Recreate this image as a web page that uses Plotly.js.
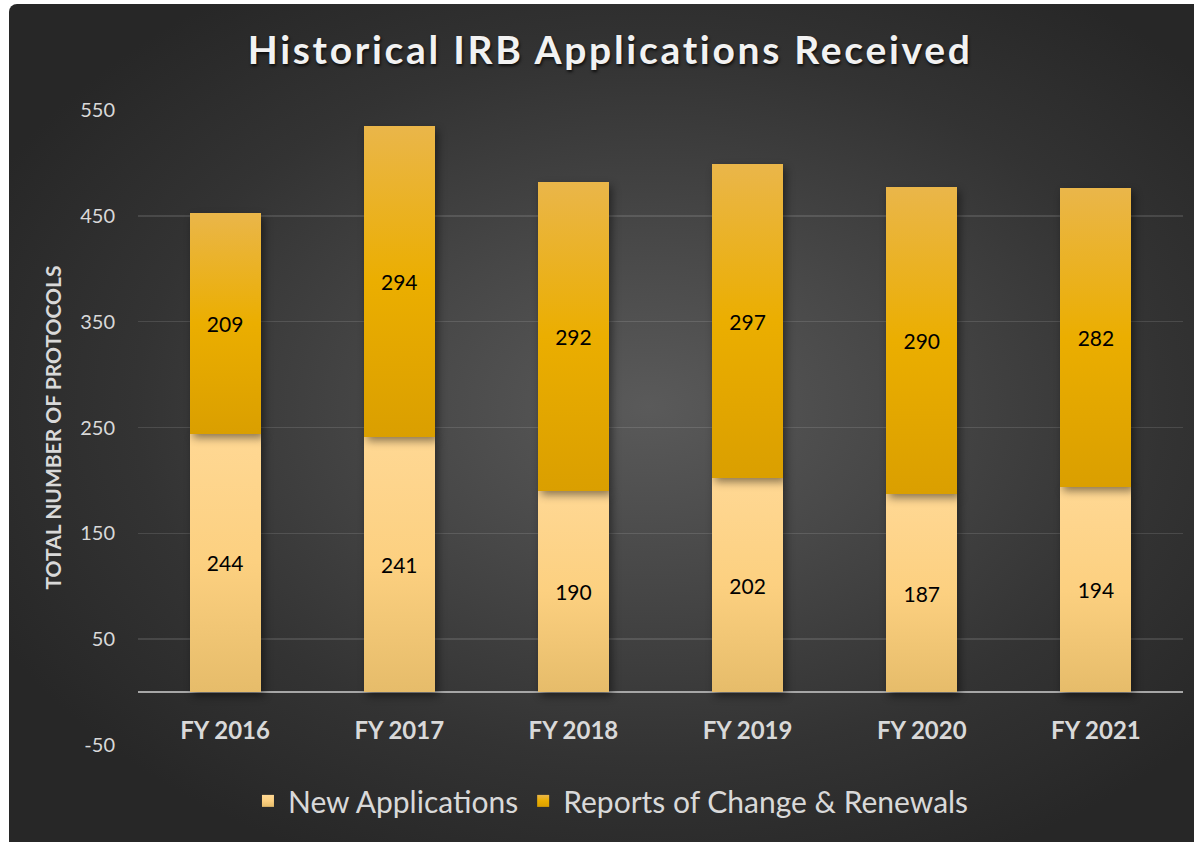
<!DOCTYPE html>
<html>
<head>
<meta charset="utf-8">
<script src="https://cdn.plot.ly/plotly-3.0.1.min.js"></script>
<style>
  html, body { margin: 0; padding: 0; background: #ffffff; }
  #bg {
    position: absolute; left: 9px; top: 4px; width: 1185px; height: 838px;
    border-top-left-radius: 8px;
    background: radial-gradient(ellipse 62% 60% at 54% 48%, #5a5a5a 0%, #474747 35%, #333333 70%, #272727 100%);
  }
  #chart { position: absolute; left: 0; top: 0; width: 1194px; height: 842px; }
  .gtitle { letter-spacing: 2.7px; }
  .barlayer .trace:nth-child(1) .point path { fill: url(#gNew) !important; }
  .barlayer .trace:nth-child(2) .point path { fill: url(#gRep) !important; }
  .barlayer .trace .point path { filter: drop-shadow(3px 4px 4px rgba(0,0,0,0.45)); }
  .legend .traces:nth-child(1) .legendpoints path { fill: url(#gNew) !important; }
  .legend .traces:nth-child(2) .legendpoints path { fill: url(#gRep) !important; }
</style>
</head>
<body>
<svg width="0" height="0" style="position:absolute">
  <defs>
    <linearGradient id="gNew" x1="0" y1="0" x2="0" y2="1">
      <stop offset="0" stop-color="#FFD894"/>
      <stop offset="0.5" stop-color="#FCD080"/>
      <stop offset="1" stop-color="#E6BC6A"/>
    </linearGradient>
    <linearGradient id="gRep" x1="0" y1="0" x2="0" y2="1">
      <stop offset="0" stop-color="#EAB64A"/>
      <stop offset="0.5" stop-color="#EBAE00"/>
      <stop offset="1" stop-color="#DA9F00"/>
    </linearGradient>
  </defs>
</svg>
<div id="bg"></div>
<div id="chart"></div>
<script>
const categories = ["FY 2016", "FY 2017", "FY 2018", "FY 2019", "FY 2020", "FY 2021"];
const newApplications = [244, 241, 190, 202, 187, 194];
const reportsOfChange = [209, 294, 292, 297, 290, 282];
const seriesNames = ["New Applications", "Reports of Change & Renewals"];
const yTicks = [-50, 50, 150, 250, 350, 450, 550];

const labelFont = { family: "Lato, 'Open Sans', sans-serif", size: 21, color: "#000000" };

const traces = [
  {
    type: "bar", name: seriesNames[0], x: categories, y: newApplications,
    text: newApplications.map(String), textposition: "inside", insidetextanchor: "middle",
    textfont: labelFont, marker: { color: "#FCD283" }, hoverinfo: "x+y+name"
  },
  {
    type: "bar", name: seriesNames[1], x: categories, y: reportsOfChange,
    text: reportsOfChange.map(String), textposition: "inside", insidetextanchor: "middle",
    textfont: labelFont, marker: { color: "#E8AA00" }, hoverinfo: "x+y+name"
  }
];

const layout = {
  width: 1194, height: 842,
  paper_bgcolor: "rgba(0,0,0,0)", plot_bgcolor: "rgba(0,0,0,0)",
  barmode: "stack", bargap: 0.592,
  margin: { l: 138, r: 11, t: 110, b: 97 },
  showlegend: true,
  title: {
    text: "Historical IRB Applications Received",
    x: 0.511, xanchor: "center", y: 0.9406, yanchor: "middle",
    font: { family: "Lato, sans-serif", size: 39, weight: 700, color: "#f2f2f2",
            shadow: "1px 2px 3px rgba(0,0,0,0.75)" }
  },
  xaxis: {
    type: "category", range: [-0.5, 5.5],
    showgrid: false, showline: false, zeroline: false,
    anchor: "free", position: 50 / 600,
    ticks: "", ticklabelstandoff: 22,
    tickfont: { family: "Lato, sans-serif", size: 24, weight: 700, color: "#d9d9d9" }
  },
  yaxis: {
    range: [-50, 550], tickvals: yTicks, ticktext: yTicks.map(String),
    showgrid: true, gridcolor: "rgba(255,255,255,0.12)", gridwidth: 1.5,
    zeroline: true, zerolinecolor: "#a6a6a6", zerolinewidth: 2,
    showline: false, ticks: "", ticklabelstandoff: 22,
    tickfont: { family: "Lato, sans-serif", size: 20, color: "#d9d9d9" },
    title: {
      text: "TOTAL NUMBER OF PROTOCOLS", standoff: 12,
      font: { family: "Lato, sans-serif", size: 21, weight: 700, color: "#d9d9d9" }
    }
  },
  legend: {
    orientation: "h", x: 0.4526, xanchor: "center", y: -0.088, yanchor: "middle",
    font: { family: "Lato, sans-serif", size: 30, color: "#d9d9d9" },
    traceorder: "normal", itemsizing: "constant",
    itemwidth: 30, bgcolor: "rgba(0,0,0,0)"
  }
};

Plotly.newPlot("chart", traces, layout, { displayModeBar: false, staticPlot: true });
</script>
</body>
</html>
